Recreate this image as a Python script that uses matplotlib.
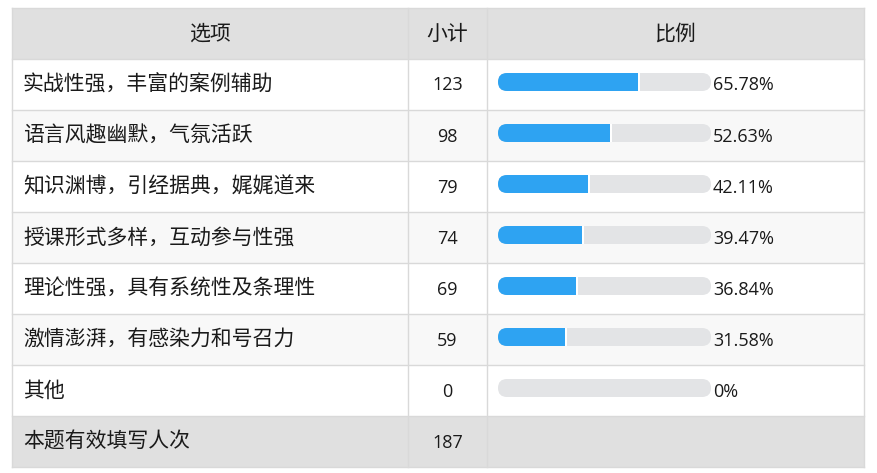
import matplotlib
matplotlib.use('Agg')
import matplotlib.pyplot as plt
from matplotlib.patches import Rectangle, FancyBboxPatch

plt.rcParams['font.family'] = ['Noto Sans CJK SC', 'DejaVu Sans']

# data
headers = ['选项', '小计', '比例']
options = ['实战性强，丰富的案例辅助', '语言风趣幽默，气氛活跃', '知识渊博，引经据典，娓娓道来',
           '授课形式多样，互动参与性强', '理论性强，具有系统性及条理性', '激情澎湃，有感染力和号召力', '其他']
counts = [123, 98, 79, 74, 69, 59, 0]
percents = [65.78, 52.63, 42.11, 39.47, 36.84, 31.58, 0]
total_label = '本题有效填写人次'
total = 187

W, H = 878, 473
fig = plt.figure(figsize=(W / 100, H / 100), dpi=100)
ax = fig.add_axes([0, 0, 1, 1])
ax.set_xlim(0, W)
ax.set_ylim(H, 0)
ax.axis('off')

cols = [12, 408, 487, 864]
top = 8
row_h = 51
n_rows = len(options) + 2
line_c = '#d9d9d9'
grey = '#e0e0e0'
txt_c = '#1a1a1a'
num_font = ['Open Sans', 'Noto Sans CJK SC']
cjk_size = 15
num_size = 13

# row backgrounds
for r in range(n_rows):
    y0 = top + r * row_h
    if r == 0 or r == n_rows - 1:
        fc = grey
    elif r % 2 == 0:
        fc = '#f8f8f8'
    else:
        fc = 'white'
    ax.add_patch(Rectangle((cols[0], y0), cols[-1] - cols[0], row_h, facecolor=fc, edgecolor='none'))

# grid lines
for r in range(n_rows + 1):
    y = top + r * row_h
    ax.plot([cols[0], cols[-1]], [y, y], color=line_c, lw=1)
for c in cols:
    ax.plot([c, c], [top, top + n_rows * row_h], color=line_c, lw=1)

# header
for i, h in enumerate(headers):
    ax.text((cols[i] + cols[i + 1]) / 2, top + row_h / 2, h, ha='center', va='center',
            fontsize=cjk_size, color=txt_c)

track_x0, track_x1 = 498, 711
bar_h = 18
for i, (opt, cnt, pct) in enumerate(zip(options, counts, percents)):
    yc = top + (i + 1) * row_h + row_h / 2
    ax.text(23, yc, opt, ha='left', va='center', fontsize=cjk_size, color=txt_c)
    ax.text((cols[1] + cols[2]) / 2, yc + 1, str(cnt), ha='center', va='center',
            fontsize=num_size, color=txt_c, family=num_font)
    # progress bar
    by = yc - 2.5 - bar_h / 2
    track = FancyBboxPatch((track_x0, by), track_x1 - track_x0, bar_h,
                           boxstyle='round,pad=0,rounding_size=9',
                           facecolor='#e3e4e6', edgecolor='none')
    ax.add_patch(track)
    if pct > 0:
        fill_w = (track_x1 - track_x0) * pct / 100
        fill = FancyBboxPatch((track_x0, by), track_x1 - track_x0, bar_h,
                              boxstyle='round,pad=0,rounding_size=9',
                              facecolor='#2ea3f2', edgecolor='none')
        ax.add_patch(fill)
        clip = Rectangle((track_x0, by), fill_w, bar_h, transform=ax.transData)
        fill.set_clip_path(clip)
        ax.add_patch(Rectangle((track_x0 + fill_w, by), 2, bar_h, facecolor='white', edgecolor='none'))
    label = f'{pct:.2f}%' if pct > 0 else '0%'
    ax.text(track_x1 + 2, yc + 1, label, ha='left', va='center', fontsize=num_size,
            color=txt_c, family=num_font)

# total row
yc = top + (n_rows - 1) * row_h + row_h / 2
ax.text(23, yc, total_label, ha='left', va='center', fontsize=cjk_size, color=txt_c)
ax.text((cols[1] + cols[2]) / 2, yc + 1, str(total), ha='center', va='center',
        fontsize=num_size, color=txt_c, family=num_font)

fig.savefig('out.png', dpi=100)
